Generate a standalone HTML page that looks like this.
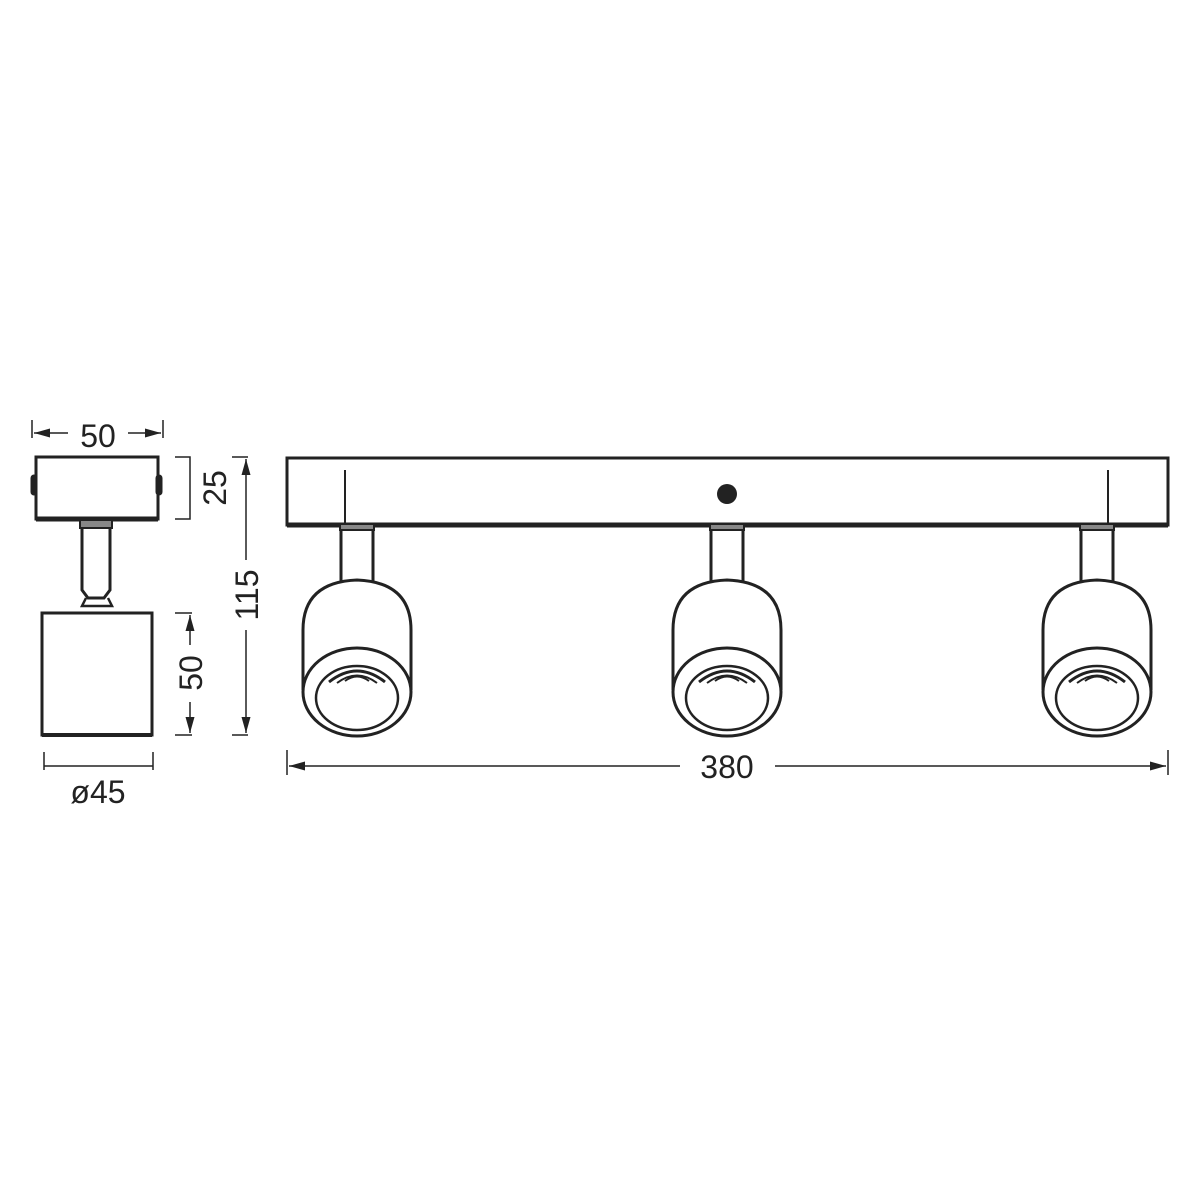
<!DOCTYPE html>
<html><head><meta charset="utf-8"><style>html,body{margin:0;padding:0;background:#fff}svg{display:block}</style></head>
<body>
<svg width="1200" height="1200" viewBox="0 0 1200 1200" xmlns="http://www.w3.org/2000/svg" font-family="Liberation Sans, sans-serif" fill="none" stroke="#222">
<defs>
<marker id="a" viewBox="0 0 16 9" refX="16" refY="4.5" markerWidth="16" markerHeight="9" orient="auto" markerUnits="userSpaceOnUse"><path d="M0,0L16,4.5L0,9z" fill="#222" stroke="none"/></marker>
<g id="spot">
<rect x="-17" y="524" width="34" height="6" fill="#888" stroke="#222" stroke-width="2"/>
<path d="M-16,530V582M16,530V582" stroke-width="3"/>
<path d="M-54,690V630Q-54,582 0,580Q54,582 54,630V690" stroke-width="3"/>
<ellipse cx="0" cy="692" rx="54" ry="44" stroke-width="3"/>
<ellipse cx="0" cy="698" rx="41" ry="32" stroke-width="2.5"/>
<path d="M-28,682Q0,660 28,682" stroke-width="3"/>
<path d="M-20,683Q0,668 20,683" stroke-width="2"/>
<path d="M-12,681Q0,672 12,681" stroke-width="2"/>
</g>
</defs>
<rect x="36" y="457" width="122" height="62" stroke-width="3"/>
<path d="M36,519H158" stroke-width="5"/>
<rect x="31" y="475" width="6" height="20" rx="3" fill="#222"/>
<rect x="156" y="475" width="6" height="20" rx="3" fill="#222"/>
<rect x="80" y="520" width="32" height="8" fill="#888" stroke-width="2"/>
<path d="M82,528V590L88,598H104L110,590V528" stroke-width="3"/>
<path d="M86,598L82,606H112L108,598" stroke-width="2.5"/>
<rect x="42" y="613" width="110" height="122" stroke-width="3"/>
<path d="M42,735H152" stroke-width="4"/>
<path d="M32,420V438M163,420V438" stroke-width="1.5"/>
<path d="M68,433H34" stroke-width="1.5" marker-end="url(#a)"/>
<path d="M128,433H161" stroke-width="1.5" marker-end="url(#a)"/>
<text x="98" y="447" font-size="32" fill="#222" stroke="none" text-anchor="middle">50</text>
<path d="M175,457H190V519H175" stroke-width="1.5"/>
<text transform="translate(226,488) rotate(-90)" font-size="32" fill="#222" stroke="none" text-anchor="middle">25</text>
<path d="M232,457H248M232,735H248" stroke-width="1.5"/>
<path d="M246,560V459" stroke-width="1.5" marker-end="url(#a)"/>
<path d="M246,630V733" stroke-width="1.5" marker-end="url(#a)"/>
<text transform="translate(258,595) rotate(-90)" font-size="32" fill="#222" stroke="none" text-anchor="middle">115</text>
<path d="M175,613H192M175,735H192" stroke-width="1.5"/>
<path d="M190,645V615" stroke-width="1.5" marker-end="url(#a)"/>
<path d="M190,702V733" stroke-width="1.5" marker-end="url(#a)"/>
<text transform="translate(202,673) rotate(-90)" font-size="32" fill="#222" stroke="none" text-anchor="middle">50</text>
<path d="M44,752V770M153,752V770M44,766H153" stroke-width="1.5"/>
<text x="98" y="803" font-size="32" fill="#222" stroke="none" text-anchor="middle">ø45</text>
<rect x="287" y="458" width="881" height="67" stroke-width="3"/>
<path d="M287,525H1168" stroke-width="5"/>
<circle cx="727" cy="494" r="10" fill="#222" stroke="none"/>
<path d="M345,470V524M1108,470V524" stroke-width="2"/>
<use href="#spot" x="357"/>
<use href="#spot" x="727"/>
<use href="#spot" x="1097"/>
<path d="M287,750V775M1168,750V775" stroke-width="1.5"/>
<path d="M680,766H289" stroke-width="1.5" marker-end="url(#a)"/>
<path d="M775,766H1166" stroke-width="1.5" marker-end="url(#a)"/>
<text x="727" y="778" font-size="32" fill="#222" stroke="none" text-anchor="middle">380</text>
</svg>
</body></html>
